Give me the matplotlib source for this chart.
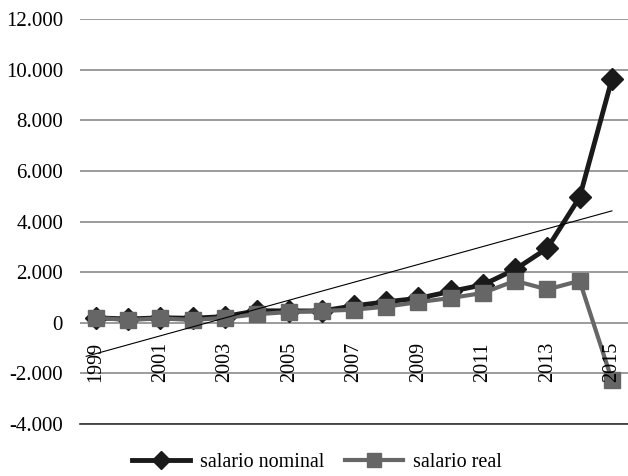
import matplotlib.pyplot as plt
from matplotlib.ticker import FuncFormatter
import numpy as np

plt.rcParams['font.family'] = ['Liberation Serif', 'DejaVu Serif']

years = list(range(1999, 2016))
nominal = [200, 150, 200, 180, 250, 480, 470, 470, 670, 830, 970, 1240, 1500, 2110, 2950, 4960, 9620]
real = [200, 110, 180, 110, 200, 340, 430, 470, 520, 640, 820, 980, 1180, 1660, 1320, 1660, -2250]
label_years = [1999, 2001, 2003, 2005, 2007, 2009, 2011, 2013, 2015]
yticks = [-4000, -2000, 0, 2000, 4000, 6000, 8000, 10000, 12000]

fig = plt.figure(figsize=(6.28, 4.76), dpi=100)
ax = fig.add_axes([0.127, 0.109, 0.873, 0.851])

x = np.arange(len(years))
ax.plot(x, nominal, color='#1a1a1a', lw=3.5, marker='D', ms=11,
        label='salario nominal', zorder=3)
ax.plot(x, real, color='#666666', lw=3, marker='s', ms=12,
        label='salario real', zorder=4)

# linear trend of the nominal series
coef = np.polyfit(x, nominal, 1)
xt = np.array([-0.3, x[-1]])
ax.plot(xt, np.polyval(coef, xt), color='black', lw=0.8, zorder=5)

ax.set_xlim(-0.5, len(years) - 0.5)
ax.set_ylim(-4000, 12000)
ax.set_yticks(yticks)
ax.yaxis.set_major_formatter(FuncFormatter(lambda v, p: f"{int(v):,}".replace(',', '.')))
ax.tick_params(axis='y', length=0, pad=12, labelsize=15)
ax.set_xticks([])
ax.yaxis.grid(True, color='#8a8a8a', lw=1.2)
ax.set_axisbelow(True)

for s in ['top', 'right', 'left']:
    ax.spines[s].set_visible(False)
ax.spines['bottom'].set_color('#333333')
ax.spines['bottom'].set_linewidth(1.2)

for yr in label_years:
    ax.text(years.index(yr), -760, str(yr), rotation=90, ha='center', va='top',
            fontsize=14.5, zorder=6)

fig.legend(loc='lower center', bbox_to_anchor=(0.505, -0.03), ncol=2, frameon=False,
           fontsize=14.5, handlelength=2.9, markerscale=0.8, columnspacing=1.0,
           handletextpad=0.5)

plt.savefig('out.png')
